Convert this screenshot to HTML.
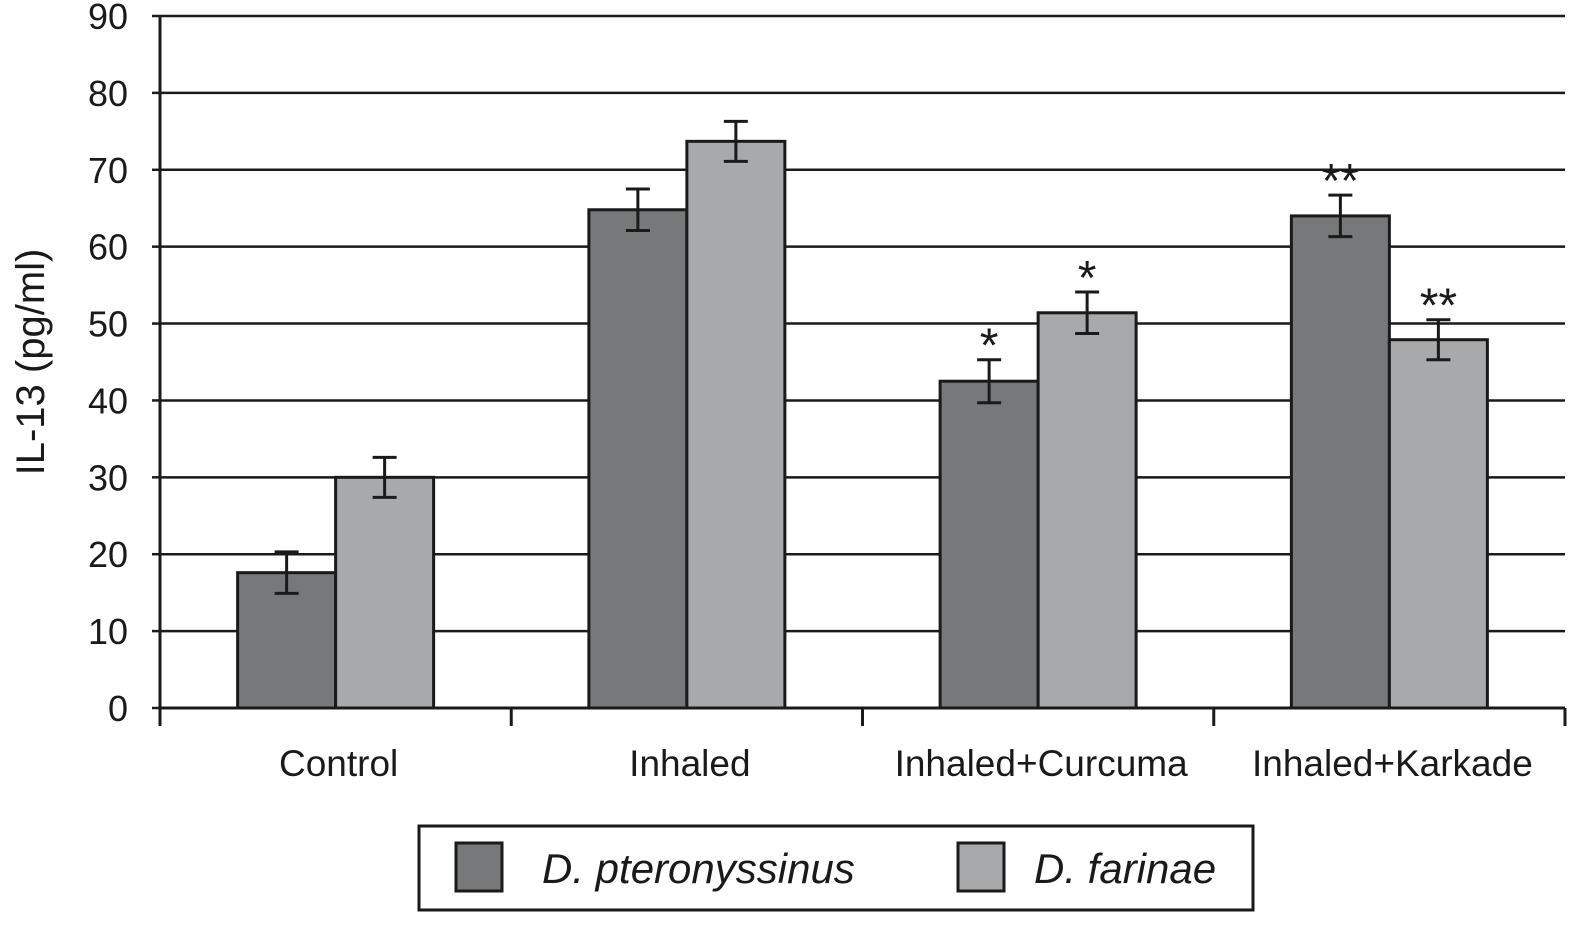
<!DOCTYPE html>
<html><head><meta charset="utf-8">
<style>
body{margin:0;background:#fff;}
svg text{font-family:"Liberation Sans",Arial,sans-serif;fill:#1a1a1a;}
</style></head>
<body>
<svg id="chart" width="1590" height="923" viewBox="0 0 1590 923" xmlns="http://www.w3.org/2000/svg">
<g id="grid"></g><g id="bars"></g><g id="axes"></g>
<text x="0" y="0" transform="translate(44,362) rotate(-90)" text-anchor="middle" font-size="40">IL-13 (pg/ml)</text>
<g>
<rect x="419" y="826" width="834" height="84" fill="#fff" stroke="#1a1a1a" stroke-width="3"/>
<rect x="456" y="843" width="46" height="48" fill="#777879" stroke="#1a1a1a" stroke-width="3"/>
<text x="542" y="883" font-size="42" font-style="italic">D. pteronyssinus</text>
<rect x="958" y="843" width="46" height="48" fill="#a7a9ab" stroke="#1a1a1a" stroke-width="3"/>
<text x="1034" y="883" font-size="42" font-style="italic">D. farinae</text>
</g>
</svg>
<script>
const categories=["Control","Inhaled","Inhaled+Curcuma","Inhaled+Karkade"];
const pteronyssinus=[17.6,64.8,42.5,64.0];
const farinae=[30.0,73.7,51.4,47.9];
const errPter=[2.7,2.7,2.8,2.7];
const errFar=[2.6,2.6,2.7,2.6];
const sigPter=["","","*","**"];
const sigFar=["","","*","**"];
const yTicks=[0,10,20,30,40,50,60,70,80,90];

const NS="http://www.w3.org/2000/svg";
const x0=160,x1=1565,y0=708,y90=16;
const y=v=>y0-(v/90)*(y0-y90);
const bandW=(x1-x0)/categories.length;
const cx=i=>x0+bandW*(i+0.5);
const barW=98;
function mk(tag,attrs,parent){const e=document.createElementNS(NS,tag);for(const k in attrs)e.setAttribute(k,attrs[k]);parent.appendChild(e);return e;}
const grid=document.getElementById('grid'),bars=document.getElementById('bars'),axes=document.getElementById('axes');
yTicks.forEach(t=>{
  if(t>0){const l=mk('line',{x1:x0,x2:x1,y1:y(t),y2:y(t),stroke:'#1a1a1a','stroke-width':2.5},grid);
  
  }
  const tx=mk('text',{x:128,y:y(t)+13,'text-anchor':'end','font-size':36},axes);tx.textContent=t;
  
  
  mk('line',{x1:x0-8,x2:x0,y1:y(t),y2:y(t),stroke:'#1a1a1a','stroke-width':2.5},axes);
});
mk('line',{x1:x0,x2:x0,y1:y90,y2:y0,stroke:'#1a1a1a','stroke-width':3},axes);
mk('line',{x1:x0,x2:x1,y1:y0,y2:y0,stroke:'#1a1a1a','stroke-width':3},axes);
for(let i=0;i<=categories.length;i++){const xx=x0+bandW*i;mk('line',{x1:xx,x2:xx,y1:y0,y2:y0+18,stroke:'#1a1a1a','stroke-width':3},axes);}
categories.forEach((c,i)=>{
  const t=mk('text',{x:cx(i)+3,y:776,'text-anchor':'middle','font-size':37},axes);t.textContent=c;
  
  
  [[pteronyssinus,errPter,sigPter,'#777879',-barW,'pteronyssinus'],[farinae,errFar,sigFar,'#a7a9ab',0,'farinae']].forEach(([vals,errs,sig,col,off,nm])=>{
    const v=vals[i],bx=cx(i)+off;
    const r=mk('rect',{x:bx,y:y(v),width:barW,height:y0-y(v),fill:col,stroke:'#1a1a1a','stroke-width':3},bars);
    
    
    const m=bx+barW/2,e=errs[i];
    const g=mk('g',{stroke:'#1a1a1a','stroke-width':3},bars);
    
    
    mk('line',{x1:m,x2:m,y1:y(v+e),y2:y(v-e)},g);
    mk('line',{x1:m-12,x2:m+12,y1:y(v+e),y2:y(v+e)},g);
    mk('line',{x1:m-12,x2:m+12,y1:y(v-e),y2:y(v-e)},g);
    if(sig[i]){const s=mk('text',{x:m,y:y(v+e)+2,'text-anchor':'middle','font-size':48},bars);s.textContent=sig[i];
      
      }
  });
});
</script>
</body></html>
